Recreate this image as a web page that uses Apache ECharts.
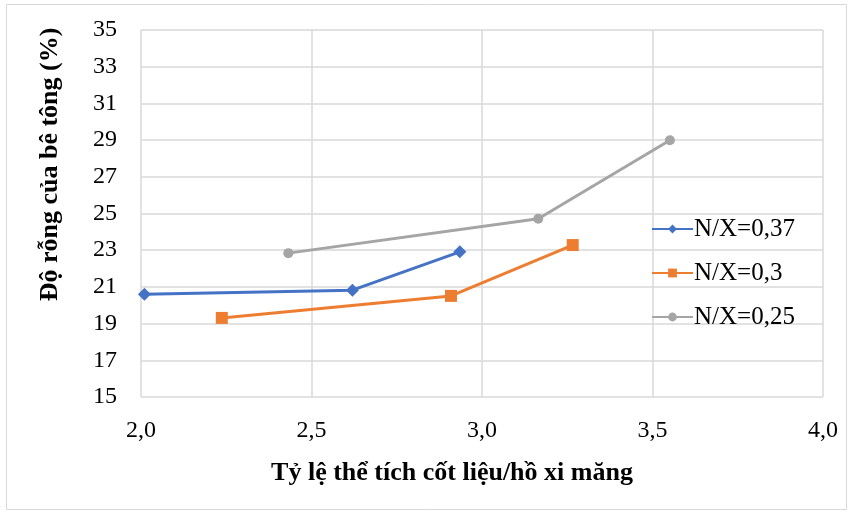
<!DOCTYPE html>
<html><head><meta charset="utf-8">
<script src="https://cdn.jsdelivr.net/npm/echarts@6/dist/echarts.min.js"></script>
<style>html,body{margin:0;padding:0;background:#fff}#c{width:849px;height:512px}</style>
</head><body><div id="c"></div>
<script>
const seriesNames = ["N/X=0,37", "N/X=0,3", "N/X=0,25"];
const xTicks = [2.0, 2.5, 3.0, 3.5, 4.0];
const yTicks = [15, 17, 19, 21, 23, 25, 27, 29, 31, 33, 35];
const x037 = [2.01, 2.62, 2.935];
const y037 = [20.6, 20.82, 22.91];
const x030 = [2.237, 2.909, 3.266];
const y030 = [19.31, 20.51, 23.28];
const x025 = [2.432, 3.165, 3.551];
const y025 = [22.84, 24.71, 28.99];
const xTitle = "Tỷ lệ thể tích cốt liệu/hồ xi măng";
const yTitle = "Độ rỗng của bê tông (%)";

const colors = ["#4472C4", "#ED7D31", "#A5A5A5"];
const symbols = ["diamond", "rect", "circle"];
const symbolSizes = [13, 12, 10];
const xs = [x037, x030, x025];
const ys = [y037, y030, y025];
const font = "'Liberation Serif','Times New Roman',serif";

const chart = echarts.init(document.getElementById('c'), null, {renderer: 'canvas'});
chart.setOption({
  animation: false,
  backgroundColor: '#fff',
  graphic: [{
    type: 'rect', shape: {x: 6.5, y: 4.5, width: 840, height: 505},
    style: {fill: 'none', stroke: '#d9d9d9', lineWidth: 1}, silent: true, z: -1
  }],
  grid: {left: 141, right: 26, top: 30, bottom: 115, containLabel: false},
  xAxis: {
    type: 'value', min: xTicks[0], max: xTicks[xTicks.length - 1], interval: 0.5,
    axisLine: {show: false}, axisTick: {show: false},
    splitLine: {show: true, lineStyle: {color: '#d9d9d9', width: 1.5}},
    axisLabel: {fontFamily: font, fontSize: 24, color: '#000', margin: 22,
      formatter: v => v.toFixed(1).replace('.', ',')},
    name: xTitle, nameLocation: 'middle', nameGap: 63,
    nameTextStyle: {fontFamily: font, fontSize: 26, fontWeight: 'bold', color: '#000',
      padding: [0, 60, 0, 0]}
  },
  yAxis: {
    type: 'value', min: yTicks[0], max: yTicks[yTicks.length - 1], interval: 2,
    axisLine: {show: false}, axisTick: {show: false},
    splitLine: {show: true, lineStyle: {color: '#d9d9d9', width: 1.5}},
    axisLabel: {fontFamily: font, fontSize: 24, color: '#000', margin: 24},
    name: yTitle, nameLocation: 'middle', nameGap: 78, nameRotate: 90,
    nameTextStyle: {fontFamily: font, fontSize: 26, fontWeight: 'bold', color: '#000',
      padding: [0, 0, 0, 98]}
  },
  legend: {
    orient: 'vertical', left: 646, top: 211, itemGap: 18,
    itemWidth: 41, itemHeight: 11,
    textStyle: {fontFamily: font, fontSize: 25, lineHeight: 26, color: '#000', padding: [0, 0, 0, -4]},
    data: seriesNames
  },
  series: seriesNames.map((n, i) => ({
    name: n, type: 'line',
    data: xs[i].map((x, j) => [x, ys[i][j]]),
    symbol: symbols[i], symbolSize: symbolSizes[i],
    lineStyle: {color: colors[i], width: 3},
    itemStyle: {color: colors[i]}
  }))
});
</script></body></html>
